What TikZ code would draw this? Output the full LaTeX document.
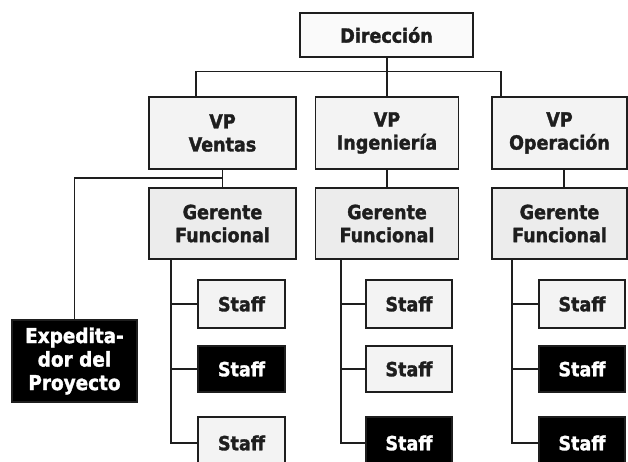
\documentclass[tikz,border=0pt]{standalone}
\usepackage{fontspec}
\setmainfont{DejaVu Sans Condensed}[BoldFont={DejaVu Sans Condensed Bold}, BoldFeatures={FakeBold=1.6}]
\definecolor{ink}{HTML}{1E1E1E}
\definecolor{paper}{HTML}{F3F3F3}
\definecolor{paperdark}{HTML}{ECECEC}
\tikzset{
  orgbox/.style={draw=ink, line width=1.5pt, align=center, inner sep=0pt,
    font=\fontsize{19.5}{23}\selectfont\bfseries},
  lightbox/.style={orgbox, fill=paper, text=ink},
  greybox/.style={orgbox, fill=paperdark, text=ink},
  darkbox/.style={orgbox, fill=black, text=white},
  link/.style={draw=ink, line width=1.2pt}
}
\begin{document}
\begin{tikzpicture}[x=1pt, y=-1pt]
\useasboundingbox (0,0) rectangle (628,462);
\clip (0,0) rectangle (628,462);
\fill[white] (0,0) rectangle (628,462);

% top level
\node[lightbox, fill=white!60!paper, minimum width=173pt, minimum height=44pt] (dir) at (386.5,35) {Dirección};

% vice presidents
\node[lightbox, minimum width=147pt, minimum height=72pt] (vpv) at (222.5,133) {VP\\Ventas};
\node[lightbox, minimum width=143pt, minimum height=72pt] (vpi) at (387,133) {VP\\Ingeniería};
\node[lightbox, minimum width=135pt, minimum height=72pt] (vpo) at (559.5,133) {VP\\Operación};

% functional managers
\node[greybox, minimum width=147pt, minimum height=71pt] (gv) at (222.5,223.5) {Gerente\\Funcional};
\node[greybox, minimum width=143pt, minimum height=71pt] (gi) at (387,223.5) {Gerente\\Funcional};
\node[greybox, minimum width=135pt, minimum height=71pt] (go) at (559.5,223.5) {Gerente\\Funcional};

% project expediter
\node[darkbox, font=\fontsize{20.5}{23.5}\selectfont\bfseries, minimum width=125pt, minimum height=82pt] (exp) at (74.5,361) {Expedita-\\dor del\\Proyecto};

% staff, sales column
\node[lightbox, minimum width=87pt, minimum height=48pt] (sv1) at (241.5,304) {Staff};
\node[darkbox,  minimum width=87pt, minimum height=46pt] (sv2) at (241.5,369) {Staff};
\node[lightbox, minimum width=87pt, minimum height=52pt] (sv3) at (241.5,443) {Staff};
% staff, engineering column
\node[lightbox, minimum width=86pt, minimum height=48pt] (si1) at (409,304) {Staff};
\node[lightbox, minimum width=86pt, minimum height=46pt] (si2) at (409,369) {Staff};
\node[darkbox,  minimum width=86pt, minimum height=52pt] (si3) at (409,443) {Staff};
% staff, operations column
\node[lightbox, minimum width=86pt, minimum height=48pt] (so1) at (582,304) {Staff};
\node[darkbox,  minimum width=86pt, minimum height=46pt] (so2) at (582,369) {Staff};
\node[darkbox,  minimum width=86pt, minimum height=52pt] (so3) at (582,443) {Staff};

% bus under the top box
\coordinate (busL) at (196,71.5);
\coordinate (busR) at (501,71.5);
\draw[link] (busL |- vpv.north) -- (busL) -- (busR) -- (busR |- vpo.north);
\draw[link] (vpi.north) -- (vpi.north |- dir.south);

% VP to manager
\draw[link] (vpv.south) -- (gv.north);
\draw[link] (vpi.south) -- (gi.north);
\draw[link] ([xshift=4.5pt]vpo.south) -- ([xshift=4.5pt]go.north);

% expediter link
\coordinate (ej) at (222.5,178);
\draw[link] (ej) -| (exp.north);

% staff trunks
\coordinate (tv) at (171,0);
\coordinate (ti) at (341,0);
\coordinate (to) at (512,0);
\foreach \t/\c in {tv/v, ti/i, to/o}{
  \draw[link] (g\c.south -| \t) -- (\t |- s\c3.west) -- (s\c3.west);
  \draw[link] (\t |- s\c1.west) -- (s\c1.west);
  \draw[link] (\t |- s\c2.west) -- (s\c2.west);
}
\end{tikzpicture}
\end{document}
